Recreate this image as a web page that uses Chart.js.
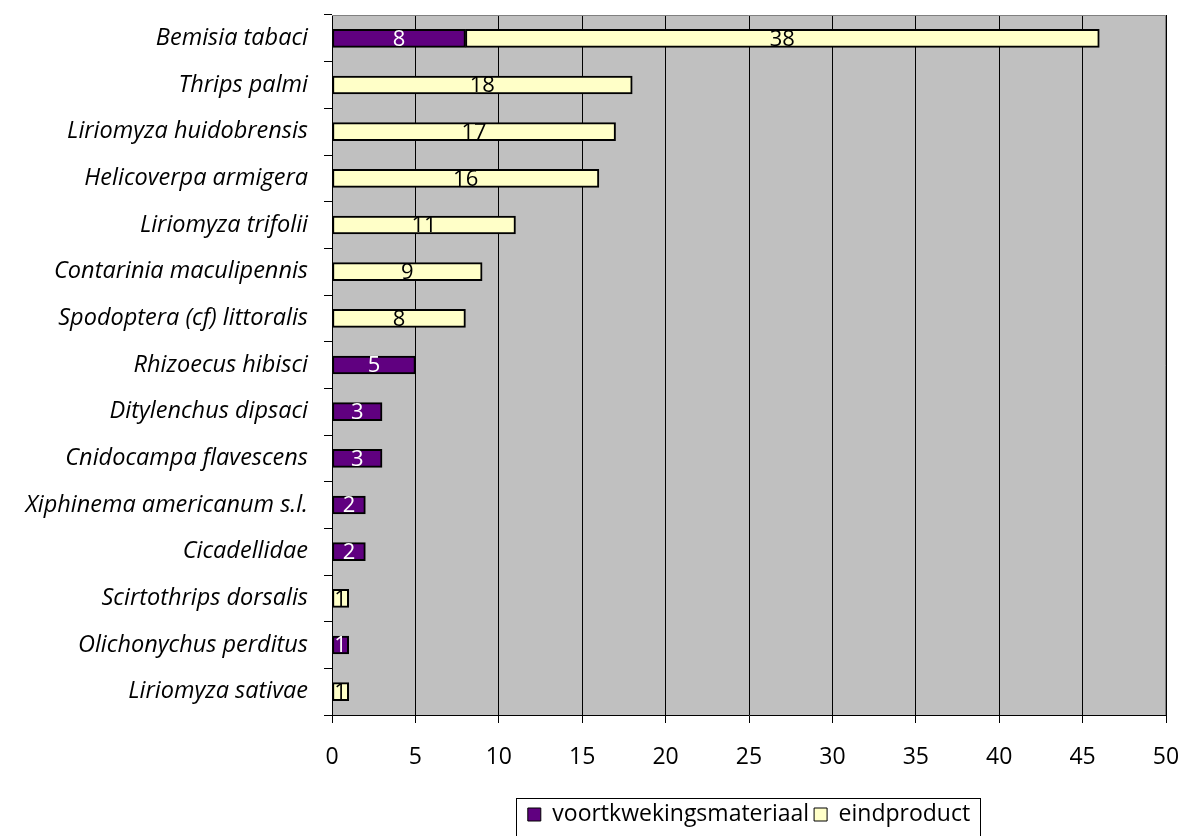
<!DOCTYPE html>
<html>
<head>
<meta charset="utf-8">
<script src="https://cdn.jsdelivr.net/npm/chart.js@4"></script>
<style>
  html, body { margin: 0; padding: 0; background: #fff; }
  #wrap { width: 1184px; height: 836px; }
</style>
</head>
<body>
<div id="wrap"><canvas id="pestChart" width="1184" height="836"></canvas></div>
<script>
// ===== DATA =====
const soorten = [
  'Bemisia tabaci', 'Thrips palmi', 'Liriomyza huidobrensis', 'Helicoverpa armigera',
  'Liriomyza trifolii', 'Contarinia maculipennis', 'Spodoptera (cf) littoralis',
  'Rhizoecus hibisci', 'Ditylenchus dipsaci', 'Cnidocampa flavescens',
  'Xiphinema americanum s.l.', 'Cicadellidae', 'Scirtothrips dorsalis',
  'Olichonychus perditus', 'Liriomyza sativae'
];
const voortkweking = [8, 0, 0, 0, 0, 0, 0, 5, 3, 3, 2, 2, 0, 1, 0];
const eindproduct  = [38, 18, 17, 16, 11, 9, 8, 0, 0, 0, 0, 0, 1, 0, 1];
const xTicks = [0, 5, 10, 15, 20, 25, 30, 35, 40, 45, 50];

const FONT = '"Open Sans", sans-serif';

// ===== PLUGINS =====
const plotBg = {
  id: 'plotBg',
  beforeDraw(chart) {
    const { ctx, chartArea: a } = chart;
    ctx.save();
    ctx.fillStyle = '#c0c0c0';
    ctx.fillRect(a.left, a.top, a.right - a.left, a.bottom - a.top);
    ctx.restore();
  },
  afterDraw(chart) {
    const { ctx, chartArea: a } = chart;
    ctx.save();
    ctx.strokeStyle = '#808080';
    ctx.lineWidth = 1;
    ctx.beginPath();
    ctx.moveTo(a.left, a.top + 0.5);
    ctx.lineTo(a.right - 0.5, a.top + 0.5);
    ctx.lineTo(a.right - 0.5, a.bottom);
    ctx.stroke();
    ctx.restore();
  }
};

const barLabels = {
  id: 'barLabels',
  afterDatasetsDraw(chart) {
    const { ctx } = chart;
    ctx.save();
    ctx.font = '22px ' + FONT;
    ctx.textAlign = 'center';
    ctx.textBaseline = 'middle';
    chart.data.datasets.forEach((ds, i) => {
      const meta = chart.getDatasetMeta(i);
      meta.data.forEach((el, j) => {
        const v = ds.data[j];
        if (!v) return;
        ctx.fillStyle = i === 0 ? '#ffffff' : '#000000';
        ctx.fillText(String(v), (el.x + el.base) / 2, el.y + 1);
      });
    });
    ctx.restore();
  }
};

const legendBox = {
  id: 'legendBox',
  afterDraw(chart) {
    const lg = chart.legend;
    const { ctx } = chart;
    const pad = lg.options.labels.padding;
    const lw = lg.lineWidths[0];
    const start = (lg.left + pad + lg.right - lw) / 2;
    const x0 = Math.round(start - 12) + 0.5;
    const x1 = Math.round(start + lw - pad + 10) + 0.5;
    ctx.save();
    ctx.strokeStyle = '#000';
    ctx.lineWidth = 1;
    ctx.strokeRect(x0, Math.round(lg.top) + 0.5, x1 - x0, 60);
    ctx.restore();
  }
};

// ===== CHART =====
new Chart(document.getElementById('pestChart'), {
  type: 'bar',
  data: {
    labels: soorten,
    datasets: [
      {
        label: 'voortkwekingsmateriaal',
        data: voortkweking,
        backgroundColor: '#600080',
        borderColor: '#000',
        borderWidth: 2,
        borderSkipped: false,
        barThickness: 18
      },
      {
        label: 'eindproduct',
        data: eindproduct,
        backgroundColor: '#ffffc8',
        borderColor: '#000',
        borderWidth: 2,
        borderSkipped: false,
        barThickness: 18
      }
    ]
  },
  options: {
    indexAxis: 'y',
    responsive: false,
    animation: false,
    layout: { padding: { top: 15, right: 18, left: 0, bottom: 0 } },
    plugins: {
      legend: {
        position: 'bottom',
        fullSize: false,
        labels: {
          font: { size: 23, family: FONT },
          color: '#000',
          boxWidth: 13,
          boxHeight: 13,
          padding: 5,
          generateLabels(chart) {
            return chart.data.datasets.map((ds, i) => ({
              text: ds.label,
              fillStyle: ds.backgroundColor,
              strokeStyle: '#000',
              lineWidth: 1,
              datasetIndex: i
            }));
          }
        }
      },
      tooltip: { enabled: false }
    },
    scales: {
      x: {
        stacked: true,
        min: 0,
        max: 50,
        afterBuildTicks: s => { s.ticks = xTicks.map(v => ({ value: v })); },
        afterFit: s => { s.height = 83; s.paddingLeft = 0; s.paddingRight = 0; },
        grid: { color: '#000', lineWidth: 1, tickLength: 8 },
        border: { color: '#000', width: 1 },
        ticks: { font: { size: 23, family: FONT }, color: '#000', padding: 21 }
      },
      y: {
        stacked: true,
        afterFit: s => { s.width = 332; s.paddingTop = 0; s.paddingBottom = 0; },
        grid: { drawOnChartArea: false, color: '#000', tickLength: 8, offset: true },
        border: { color: '#000', width: 1 },
        ticks: { font: { size: 23.5, family: FONT, style: 'italic' }, color: '#000', padding: 16 }
      }
    }
  },
  plugins: [plotBg, barLabels, legendBox]
});
</script>
</body>
</html>
